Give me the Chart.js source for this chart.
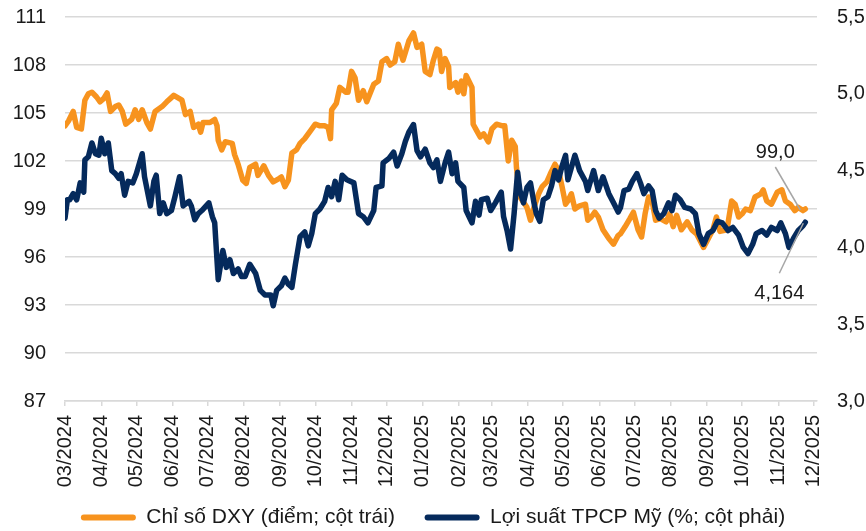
<!DOCTYPE html>
<html>
<head>
<meta charset="utf-8">
<script src="https://cdn.jsdelivr.net/npm/chart.js@4.4.1/dist/chart.umd.min.js"></script>
<style>
	html, body { margin: 0; padding: 0; background: #ffffff; }
	#wrap { width: 866px; height: 531px; }
</style>
</head>
<body>
<div id="wrap"><canvas id="dxy-chart" width="866" height="531"></canvas></div>
<script>

// Chỉ số DXY (điểm) - cột trái
const dxyDates = [
	'2024-03-01','2024-03-04','2024-03-08','2024-03-11','2024-03-15','2024-03-18','2024-03-21','2024-03-24','2024-03-28','2024-03-31',
	'2024-04-03','2024-04-06','2024-04-09','2024-04-13','2024-04-16','2024-04-19','2024-04-22','2024-04-27','2024-04-30',
	'2024-05-03','2024-05-06','2024-05-10','2024-05-13','2024-05-17','2024-05-23','2024-05-27','2024-05-30',
	'2024-06-02','2024-06-09','2024-06-12','2024-06-16','2024-06-19','2024-06-23','2024-06-25','2024-06-27',
	'2024-07-03','2024-07-07','2024-07-09','2024-07-10','2024-07-13','2024-07-16','2024-07-22','2024-07-24','2024-07-27','2024-07-31',
	'2024-08-03','2024-08-06','2024-08-11','2024-08-13','2024-08-18','2024-08-22','2024-08-26','2024-08-31',
	'2024-09-02','2024-09-05','2024-09-08','2024-09-11','2024-09-15','2024-09-18','2024-09-22','2024-09-27',
	'2024-10-01','2024-10-05','2024-10-09','2024-10-12','2024-10-14','2024-10-15','2024-10-19','2024-10-22','2024-10-27','2024-10-29',
	'2024-11-01','2024-11-04','2024-11-07','2024-11-11','2024-11-14','2024-11-20','2024-11-24','2024-11-27',
	'2024-12-01','2024-12-04','2024-12-08','2024-12-11','2024-12-15','2024-12-20','2024-12-24','2024-12-27','2024-12-31',
	'2025-01-03','2025-01-07','2025-01-10','2025-01-13','2025-01-15','2025-01-17','2025-01-20','2025-01-23','2025-01-24','2025-01-29','2025-01-31',
	'2025-02-03','2025-02-05','2025-02-07','2025-02-12','2025-02-13','2025-02-16','2025-02-19','2025-02-22','2025-02-26',
	'2025-03-01','2025-03-05','2025-03-10','2025-03-12','2025-03-15','2025-03-18','2025-03-21','2025-03-22','2025-03-25','2025-03-31',
	'2025-04-03','2025-04-06','2025-04-10','2025-04-13','2025-04-17','2025-04-20','2025-04-24','2025-04-27','2025-04-30',
	'2025-05-03','2025-05-05','2025-05-08','2025-05-11','2025-05-15','2025-05-20','2025-05-22','2025-05-25','2025-05-28','2025-05-31',
	'2025-06-04','2025-06-09','2025-06-13','2025-06-17','2025-06-19','2025-06-23','2025-06-27','2025-06-30',
	'2025-07-04','2025-07-07','2025-07-10','2025-07-13','2025-07-16','2025-07-19','2025-07-23','2025-07-28','2025-07-31',
	'2025-08-03','2025-08-06','2025-08-10','2025-08-15','2025-08-19','2025-08-23','2025-08-29',
	'2025-09-02','2025-09-06','2025-09-09','2025-09-12','2025-09-18','2025-09-22','2025-09-25','2025-09-28',
	'2025-10-01','2025-10-04','2025-10-08','2025-10-12','2025-10-17','2025-10-19','2025-10-22','2025-10-26','2025-10-31',
	'2025-11-04','2025-11-07','2025-11-11','2025-11-15','2025-11-18','2025-11-22','2025-11-24'
];
const dxyValues = [
	104.2,104.5,105.1,104.1,104.0,105.8,106.2,106.3,106.0,105.7,
	105.9,106.25,105.1,105.4,105.5,105.1,104.3,104.6,105.2,
	104.6,105.2,104.4,104.0,105.1,105.4,105.7,105.9,
	106.1,105.8,104.9,105.1,104.1,104.3,103.8,104.4,
	104.4,104.6,104.2,103.3,102.7,103.2,103.1,102.4,101.8,100.8,
	100.6,101.6,101.8,101.1,101.7,101.1,100.7,100.9,
	101.0,100.4,100.8,102.5,102.7,103.1,103.4,103.9,
	104.3,104.2,104.2,104.1,103.4,105.2,105.6,106.6,106.3,106.3,
	107.6,107.2,105.8,106.4,105.7,106.8,107.0,108.2,
	108.4,108.0,108.2,109.3,108.3,109.5,110.0,109.1,109.3,
	107.6,107.4,108.3,109.0,108.9,107.6,108.4,107.9,106.6,106.9,106.3,
	107.0,106.2,107.35,106.6,104.3,103.9,103.5,103.7,103.2,
	104.0,104.3,104.2,104.2,102.0,103.3,102.9,101.6,99.75,99.1,
	98.3,99.1,99.95,100.4,100.7,101.2,101.8,101.4,100.4,
	99.3,99.5,99.95,99.0,99.2,99.3,98.3,98.5,98.8,98.5,
	97.7,97.15,96.8,97.35,97.45,97.9,98.4,98.8,
	97.7,97.25,98.7,99.75,99.5,98.3,98.4,98.2,98.7,
	97.9,98.6,97.7,98.2,97.7,97.45,96.6,
	97.15,97.7,98.5,97.6,97.7,99.5,99.3,98.5,
	98.7,99.0,98.9,99.75,99.95,100.2,99.5,99.3,100.05,
	100.2,99.5,99.3,98.9,99.1,98.9,99.0
];

// Lợi suất TPCP Mỹ (%) - cột phải
const yieldDates = [
	'2024-03-01','2024-03-03','2024-03-05','2024-03-08','2024-03-11','2024-03-14','2024-03-17','2024-03-18','2024-03-21','2024-03-24','2024-03-27','2024-03-30',
	'2024-04-01','2024-04-04','2024-04-07','2024-04-10','2024-04-13','2024-04-16','2024-04-18','2024-04-21','2024-04-24','2024-04-28',
	'2024-05-01','2024-05-06','2024-05-08','2024-05-13','2024-05-16','2024-05-18','2024-05-21','2024-05-24','2024-05-27','2024-05-31',
	'2024-06-03','2024-06-07','2024-06-10','2024-06-15','2024-06-17','2024-06-20','2024-06-23','2024-06-26',
	'2024-07-02','2024-07-05','2024-07-07','2024-07-10','2024-07-14','2024-07-17','2024-07-20','2024-07-23','2024-07-27','2024-07-30',
	'2024-08-02','2024-08-06','2024-08-11','2024-08-15','2024-08-19','2024-08-24','2024-08-26','2024-08-29',
	'2024-09-02','2024-09-05','2024-09-08','2024-09-11','2024-09-14','2024-09-18','2024-09-22','2024-09-25','2024-09-28',
	'2024-10-01','2024-10-05','2024-10-09','2024-10-12','2024-10-15','2024-10-18','2024-10-21','2024-10-24','2024-10-28',
	'2024-11-03','2024-11-07','2024-11-11','2024-11-15','2024-11-20','2024-11-22','2024-11-27','2024-11-28',
	'2024-12-03','2024-12-07','2024-12-10','2024-12-14','2024-12-17','2024-12-20','2024-12-24','2024-12-27','2024-12-30',
	'2025-01-03','2025-01-07','2025-01-10','2025-01-13','2025-01-16','2025-01-20','2025-01-23','2025-01-26','2025-01-29','2025-01-31',
	'2025-02-05','2025-02-07','2025-02-12','2025-02-15','2025-02-18','2025-02-20','2025-02-25','2025-02-28',
	'2025-03-04','2025-03-09','2025-03-11','2025-03-14','2025-03-17','2025-03-20','2025-03-23','2025-03-25','2025-03-28','2025-03-31',
	'2025-04-03','2025-04-06','2025-04-08','2025-04-11','2025-04-14','2025-04-18','2025-04-21','2025-04-24','2025-04-27','2025-04-30',
	'2025-05-03','2025-05-05','2025-05-08','2025-05-11','2025-05-15','2025-05-20','2025-05-22','2025-05-27','2025-05-31',
	'2025-06-04','2025-06-09','2025-06-13','2025-06-17','2025-06-19','2025-06-22','2025-06-26','2025-06-29',
	'2025-07-03','2025-07-06','2025-07-09','2025-07-13','2025-07-16','2025-07-19','2025-07-22','2025-07-26','2025-07-30',
	'2025-08-02','2025-08-05','2025-08-09','2025-08-13','2025-08-18','2025-08-22','2025-08-25','2025-08-29',
	'2025-09-02','2025-09-06','2025-09-10','2025-09-14','2025-09-19','2025-09-23','2025-09-28',
	'2025-10-02','2025-10-06','2025-10-10','2025-10-13','2025-10-18','2025-10-22','2025-10-26','2025-10-31',
	'2025-11-03','2025-11-07','2025-11-10','2025-11-14','2025-11-18','2025-11-22','2025-11-24'
];
const yieldValues = [
	4.19,4.31,4.31,4.35,4.31,4.42,4.36,4.57,4.59,4.68,4.61,4.60,
	4.71,4.61,4.68,4.50,4.48,4.45,4.48,4.34,4.43,4.42,
	4.48,4.61,4.46,4.27,4.43,4.47,4.22,4.29,4.22,4.24,
	4.33,4.46,4.27,4.30,4.27,4.18,4.22,4.24,
	4.29,4.20,4.16,3.79,3.98,3.87,3.92,3.83,3.86,3.81,
	3.81,3.89,3.83,3.72,3.69,3.69,3.62,3.72,
	3.75,3.80,3.76,3.74,3.89,4.07,4.10,4.01,4.09,
	4.22,4.25,4.30,4.39,4.33,4.43,4.31,4.47,4.44,
	4.42,4.22,4.20,4.16,4.24,4.39,4.40,4.55,
	4.58,4.62,4.53,4.61,4.69,4.75,4.80,4.63,4.59,
	4.64,4.55,4.52,4.57,4.43,4.55,4.62,4.48,4.55,4.43,
	4.39,4.24,4.16,4.30,4.21,4.31,4.32,4.24,
	4.29,4.36,4.20,4.11,3.99,4.22,4.49,4.37,4.29,4.39,
	4.42,4.29,4.22,4.17,4.31,4.33,4.40,4.50,4.44,4.53,
	4.60,4.44,4.52,4.60,4.50,4.43,4.37,4.50,4.37,
	4.46,4.35,4.29,4.23,4.26,4.37,4.38,4.43,
	4.48,4.42,4.35,4.40,4.37,4.24,4.19,4.22,4.29,
	4.24,4.34,4.31,4.26,4.25,4.22,4.09,4.02,
	4.09,4.11,4.17,4.16,4.11,4.13,4.08,
	4.00,3.96,4.02,4.09,4.11,4.08,4.13,4.11,
	4.16,4.09,4.00,4.06,4.11,4.14,4.164
];

const tickLabels = [
	'03/2024','04/2024','05/2024','06/2024','07/2024','08/2024','09/2024','10/2024','11/2024','12/2024',
	'01/2025','02/2025','03/2025','04/2025','05/2025','06/2025','07/2025','08/2025','09/2025','10/2025','11/2025','12/2025'
];

const seriesNames = ['Chỉ số DXY (điểm; cột trái)', 'Lợi suất TPCP Mỹ (%; cột phải)'];
const seriesColors = ['#F7931E', '#052A5C'];

const FONT = '"Liberation Sans", Arial, sans-serif';
const TEXT_COLOR = '#1a1a1a';
const GRID_COLOR = '#d9d9d9';

const START = Date.UTC(2024, 2, 1);

// days since 01/03/2024
function day_index(dateStr) {
	const p = dateStr.split('-');
	return (Date.UTC(+p[0], +p[1] - 1, +p[2]) - START) / 86400000;
}

function month_index(label) {
	const p = label.split('/');
	return (Date.UTC(+p[1], +p[0] - 1, 1) - START) / 86400000;
}

function to_points(dates, values) {
	const pts = [];
	for ( let i = 0; i < dates.length; i++ ) {
		pts.push({ x: day_index(dates[i]), y: values[i] });
	}
	return pts;
}

const tickValues = tickLabels.map(month_index);

// labels next to the last value of each line, with a grey leader line
const endLabels = {
	id: 'endLabels',
	afterDatasetsDraw(chart) {
		const ctx = chart.ctx;
		const xs = chart.scales.x;
		const items = [
			{ axis: 'y', dates: dxyDates, values: dxyValues, text: dxyValues[dxyValues.length - 1].toFixed(1).replace('.', ','), tx: -30, ty: -57, l1: [-30, -42], l2: [-5, 1] },
			{ axis: 'y1', dates: yieldDates, values: yieldValues, text: yieldValues[yieldValues.length - 1].toFixed(3).replace('.', ','), tx: -26, ty: 71, l1: [-26, 51], l2: [-2, 1] }
		];
		ctx.save();
		items.forEach(function (it) {
			const n = it.dates.length - 1;
			const px = xs.getPixelForValue(day_index(it.dates[n]));
			const py = chart.scales[it.axis].getPixelForValue(it.values[n]);
			ctx.strokeStyle = '#a6a6a6';
			ctx.lineWidth = 1.5;
			ctx.beginPath();
			ctx.moveTo(px + it.l1[0], py + it.l1[1]);
			ctx.lineTo(px + it.l2[0], py + it.l2[1]);
			ctx.stroke();
			ctx.fillStyle = TEXT_COLOR;
			ctx.font = '20px ' + FONT;
			ctx.textAlign = 'center';
			ctx.textBaseline = 'middle';
			ctx.fillText(it.text, px + it.tx, py + it.ty);
		});
		ctx.restore();
	}
};

const chart_ctx = document.getElementById('dxy-chart');

new Chart(chart_ctx, {
	type: 'line',
	data: {
		datasets: [
			{
				label: seriesNames[0],
				data: to_points(dxyDates, dxyValues),
				yAxisID: 'y',
				borderColor: seriesColors[0],
				backgroundColor: seriesColors[0],
				borderWidth: 5.5,
				pointRadius: 0,
				borderJoinStyle: 'round',
				borderCapStyle: 'round',
				order: 1
			},
			{
				label: seriesNames[1],
				data: to_points(yieldDates, yieldValues),
				yAxisID: 'y1',
				borderColor: seriesColors[1],
				backgroundColor: seriesColors[1],
				borderWidth: 5.5,
				pointRadius: 0,
				borderJoinStyle: 'round',
				borderCapStyle: 'round',
				order: 0
			}
		]
	},
	plugins: [endLabels],
	options: {
		responsive: false,
		animation: false,
		devicePixelRatio: 1,
		layout: { padding: { top: 17, left: 0, right: 0, bottom: 0 } },
		scales: {
			x: {
				type: 'linear',
				min: 0,
				max: tickValues[tickValues.length - 1] + 3,
				afterBuildTicks: function (scale) {
					scale.ticks = tickValues.map(v => ({ value: v }));
				},
				// room for the rotated month labels
				afterFit: function (scale) { scale.height = 88; },
				grid: { drawOnChartArea: false, drawTicks: true, tickLength: 5, color: GRID_COLOR, lineWidth: 1.5 },
				border: { display: true, color: GRID_COLOR, width: 1.5 },
				ticks: {
					autoSkip: false,
					maxRotation: 90,
					minRotation: 90,
					padding: 9,
					color: TEXT_COLOR,
					font: { family: FONT, size: 20 },
					callback: (value, index) => tickLabels[index]
				}
			},
			y: {
				position: 'left',
				min: 87,
				max: 111,
				afterFit: function (scale) { scale.width = 65; },
				// invisible tick marks keep the labels away from the plot
				grid: { color: GRID_COLOR, lineWidth: 1.5, drawTicks: true, tickLength: 19, tickColor: 'rgba(0,0,0,0)' },
				border: { display: false },
				ticks: {
					stepSize: 3,
					padding: 0,
					color: TEXT_COLOR,
					font: { family: FONT, size: 20 }
				}
			},
			y1: {
				position: 'right',
				min: 3,
				max: 5.5,
				afterFit: function (scale) { scale.width = 49; },
				grid: { drawOnChartArea: false, drawTicks: true, tickLength: 20, tickColor: 'rgba(0,0,0,0)' },
				border: { display: false },
				ticks: {
					stepSize: 0.5,
					padding: 0,
					color: TEXT_COLOR,
					font: { family: FONT, size: 20 },
					callback: (value) => value.toFixed(1).replace('.', ',')
				}
			}
		},
		plugins: {
			tooltip: { enabled: false },
			legend: {
				position: 'bottom',
				maxHeight: 42,
				labels: {
					boxWidth: 55,
					boxHeight: 6,
					padding: 18,
					useBorderRadius: true,
					borderRadius: 3,
					color: TEXT_COLOR,
					font: { family: FONT, size: 21 },
					generateLabels: function (chart) {
						const items = Chart.defaults.plugins.legend.labels.generateLabels(chart);
						items.forEach(function (it) { it.lineWidth = 0; });
						items.sort((a, b) => a.datasetIndex - b.datasetIndex);
						// a little extra space before the second entry
						items[0].text = items[0].text + '  ';
						return items;
					}
				}
			}
		}
	}
});
</script>
</body>
</html>
